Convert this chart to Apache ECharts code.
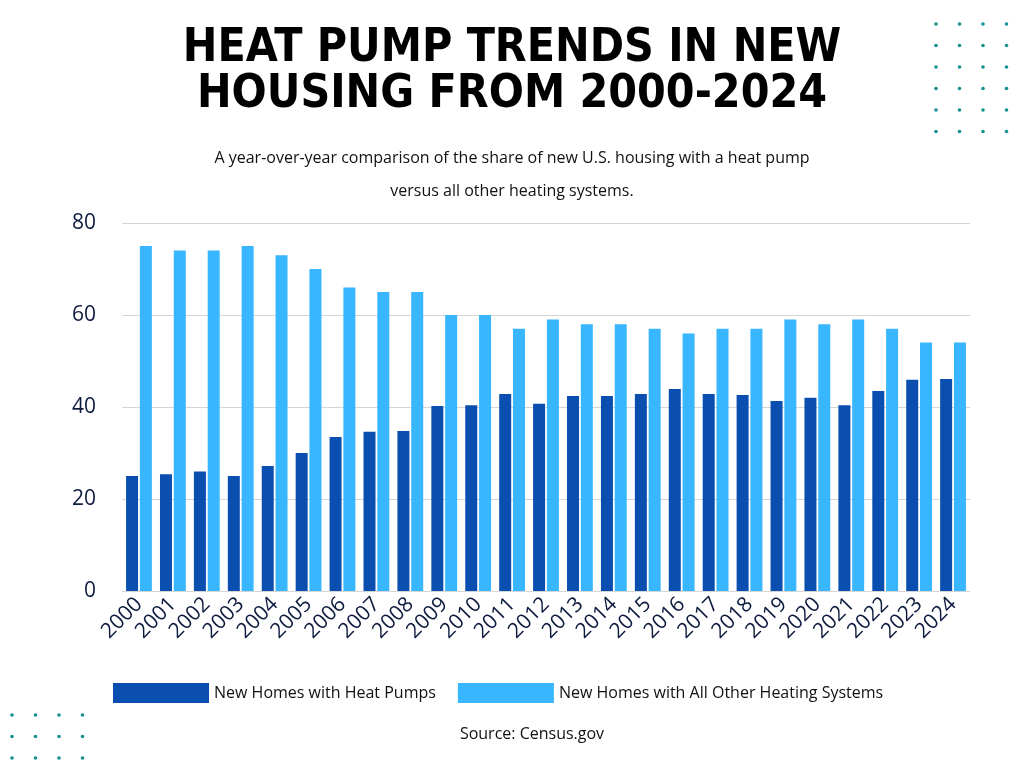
<!DOCTYPE html>
<html><head><meta charset="utf-8">
<script src="https://cdn.jsdelivr.net/npm/echarts@6/dist/echarts.min.js"></script>
<style>html,body{margin:0;background:#fff}#c{width:1024px;height:768px}</style>
</head><body><div id="c"></div>
<script>
const years = ['2000','2001','2002','2003','2004','2005','2006','2007','2008','2009','2010','2011','2012','2013','2014','2015','2016','2017','2018','2019','2020','2021','2022','2023','2024']
const heatPumps = [25,25.4,26,25,27.2,30,33.5,34.6,34.8,40.2,40.4,42.8,40.7,42.4,42.4,42.8,43.9,42.8,42.6,41.3,42,40.4,43.5,45.9,46.1]
const otherSystems = [75,74,74,75,73,70,66,65,65,60,60,57,59,58,58,57,56,57,57,59,58,59,57,54,54]

// decorative dot grids
const dots = []
const addDots = (x0, y0, cols, rows) => {
    for (let r = 0; r < rows; r++) for (let c = 0; c < cols; c++)
        dots.push({type:'circle', shape:{cx:x0 + c*23.5, cy:y0 + r*21.5, r:1.8}, style:{fill:'#14908f'}})
}
addDots(936, 24, 4, 6)
addDots(12, 715, 4, 3)

const chart = echarts.init(document.getElementById('c'))
chart.setOption({
    textStyle:{fontFamily:'"Open Sans", sans-serif'},
    graphic: dots.concat([
        {type:'text', x:512, y:26, style:{text:'HEAT PUMP TRENDS IN NEW\nHOUSING FROM 2000-2024', font:'bold 46px "Liberation Sans Narrow", "DejaVu Sans Condensed", sans-serif', fill:'#000', align:'center', lineHeight:46}},
        {type:'text', x:512, y:142, style:{text:'A year-over-year comparison of the share of new U.S. housing with a heat pump\nversus all other heating systems.', font:'16px "Open Sans", sans-serif', fill:'#111', align:'center', lineHeight:33}},
        {type:'text', x:532, y:726, style:{text:'Source: Census.gov', font:'16px "Open Sans", sans-serif', fill:'#111', align:'center'}}
    ]),
    legend:{top:678, left:108, itemWidth:96, itemHeight:20, itemGap:22, icon:'rect',
        textStyle:{fontSize:16, color:'#111', fontFamily:'"Open Sans", sans-serif'},
        data:['New Homes with Heat Pumps','New Homes with All Other Heating Systems']},
    grid:{left:122, right:54, top:223, bottom:177},
    xAxis:{type:'category', data:years,
        axisLine:{show:false}, axisTick:{show:false},
        axisLabel:{rotate:45, fontSize:21, color:'#0d1b3e', fontWeight:500, interval:0, margin:10}},
    yAxis:{type:'value', min:0, max:80, interval:20,
        axisLabel:{fontSize:21, color:'#0d1b3e', margin:26},
        splitLine:{lineStyle:{color:'#d5d5d5'}}},
    series:[
        {name:'New Homes with Heat Pumps', type:'bar', data:heatPumps, barWidth:12, barGap:'15%', itemStyle:{color:'#0a4fb0'}},
        {name:'New Homes with All Other Heating Systems', type:'bar', data:otherSystems, barWidth:12, itemStyle:{color:'#38b6ff'}}
    ]
})
</script></body></html>
